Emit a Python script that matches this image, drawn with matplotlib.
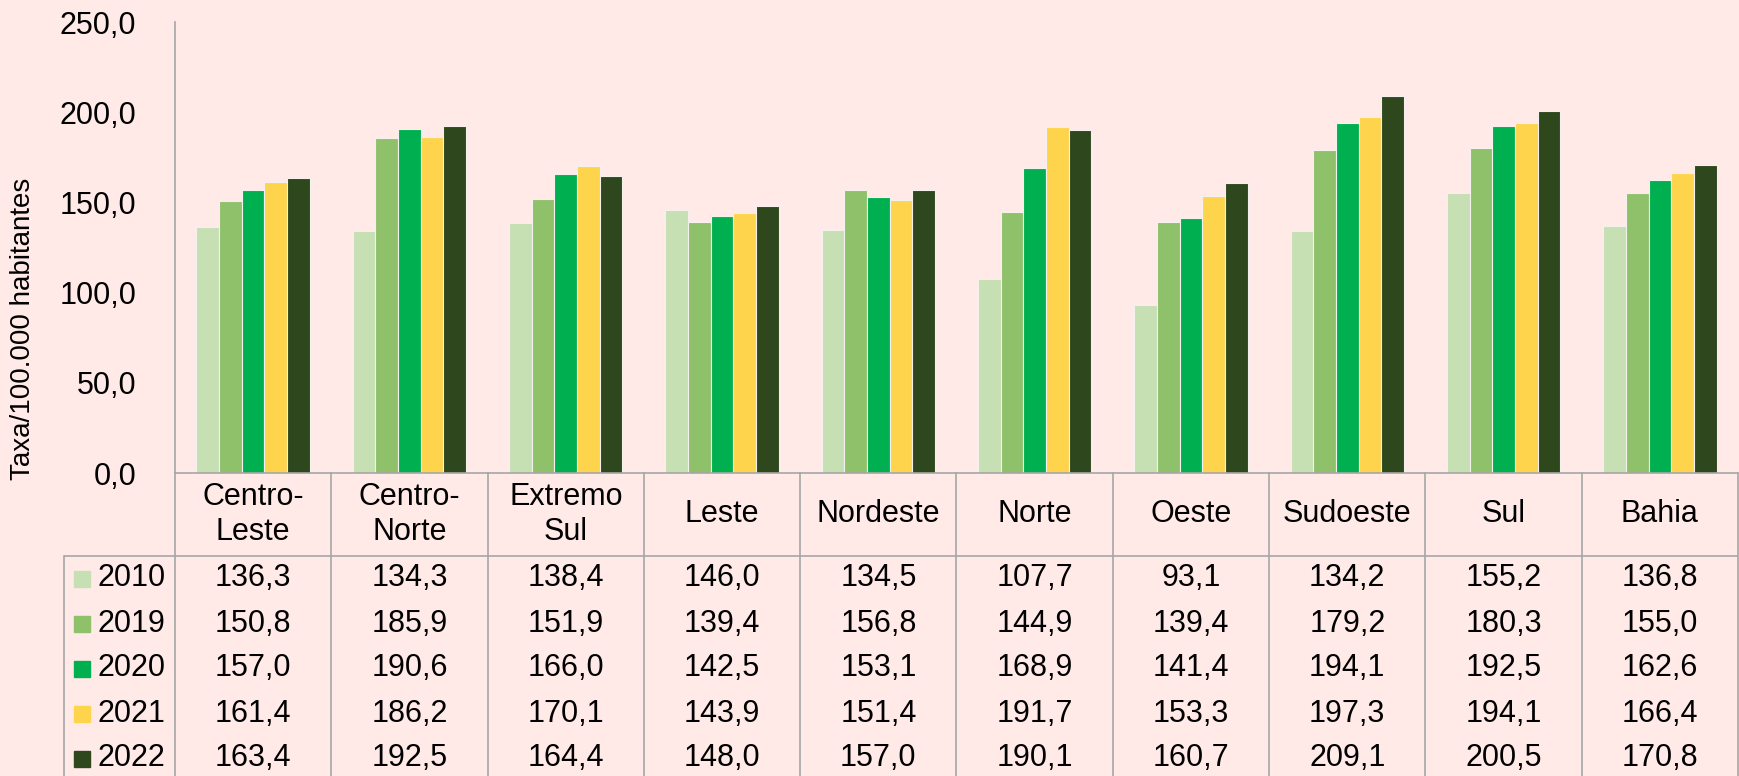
import matplotlib
matplotlib.use("Agg")
import matplotlib.pyplot as plt
import numpy as np

plt.rcParams['font.family'] = ['Liberation Sans', 'DejaVu Sans']

# data
regions = ["Centro-\nLeste", "Centro-\nNorte", "Extremo\nSul", "Leste", "Nordeste",
           "Norte", "Oeste", "Sudoeste", "Sul", "Bahia"]
years = ["2010", "2019", "2020", "2021", "2022"]
v2010 = [136.3, 134.3, 138.4, 146.0, 134.5, 107.7, 93.1, 134.2, 155.2, 136.8]
v2019 = [150.8, 185.9, 151.9, 139.4, 156.8, 144.9, 139.4, 179.2, 180.3, 155.0]
v2020 = [157.0, 190.6, 166.0, 142.5, 153.1, 168.9, 141.4, 194.1, 192.5, 162.6]
v2021 = [161.4, 186.2, 170.1, 143.9, 151.4, 191.7, 153.3, 197.3, 194.1, 166.4]
v2022 = [163.4, 192.5, 164.4, 148.0, 157.0, 190.1, 160.7, 209.1, 200.5, 170.8]
series = [v2010, v2019, v2020, v2021, v2022]
colors = ["#C6E0B4", "#8FC16A", "#00B050", "#FFD44D", "#2E471C"]

bg = "#FFEAE8"
grid_col = "#A6A6A6"
W, H = 1740, 776
fs = 22


def fmt(v):
    return f"{v:.1f}".replace(".", ",")


fig = plt.figure(figsize=(W / 100, H / 100), dpi=100, facecolor=bg)

# --- bar chart ---
ax = fig.add_axes([175 / W, 1 - 473 / H, (1738 - 175) / W, (473 - 22) / H])
ax.set_facecolor(bg)
x = np.arange(len(regions))
bw = 0.145
for i, (vals, c) in enumerate(zip(series, colors)):
    ax.bar(x + (i - 2) * bw, vals, bw, color=c, edgecolor="#F4F0EE", linewidth=0.8)

ax.set_xlim(-0.5, len(regions) - 0.5)
ax.set_ylim(0, 250)
ax.set_yticks(np.arange(0, 251, 50))
ax.set_yticklabels([fmt(t) for t in np.arange(0, 251, 50)], fontsize=fs)
ax.tick_params(axis="y", length=0, pad=28)
ax.set_xticks([])
for s in ["top", "right"]:
    ax.spines[s].set_visible(False)
for s in ["left", "bottom"]:
    ax.spines[s].set_color(grid_col)
    ax.spines[s].set_linewidth(1.2)

fig.text(23 / W, 1 - 329 / H, "Taxa/100.000 habitantes", rotation=90,
         ha="center", va="center", fontsize=20)

# --- data table below the chart ---
col_px = (1738 - 175) / len(regions)
x0 = -0.5 - (175 - 64) / col_px
row_h = 45
hdr = (556 - 473) / row_h
bottom = (H - 473) / row_h

tab = fig.add_axes([64 / W, 0, (1738 - 64) / W, (H - 473) / H])
tab.set_xlim(x0, len(regions) - 0.5)
tab.set_ylim(bottom, 0)
tab.axis("off")

lw = 1.2
for k in range(len(regions) + 1):
    tab.plot([k - 0.5, k - 0.5], [0, bottom + 1], color=grid_col, lw=lw, clip_on=False)
tab.plot([x0, len(regions) - 0.5], [hdr, hdr], color=grid_col, lw=lw)
tab.plot([x0, x0], [hdr, bottom + 1], color=grid_col, lw=lw, clip_on=False)

for i, name in enumerate(regions):
    tab.text(i, hdr / 2, name, ha="center", va="center", fontsize=fs, linespacing=1.2)

for r, (yr, vals, c) in enumerate(zip(years, series, colors)):
    yc = hdr + r + 0.5
    tab.plot([x0 + 0.115], [yc], marker="s", markersize=11.5, color=c, linestyle="none")
    tab.text(x0 + 0.212, yc, yr, ha="left", va="center", fontsize=fs)
    for i, v in enumerate(vals):
        tab.text(i, yc, fmt(v), ha="center", va="center", fontsize=fs)

fig.savefig("out.png", dpi=100, facecolor=bg)
